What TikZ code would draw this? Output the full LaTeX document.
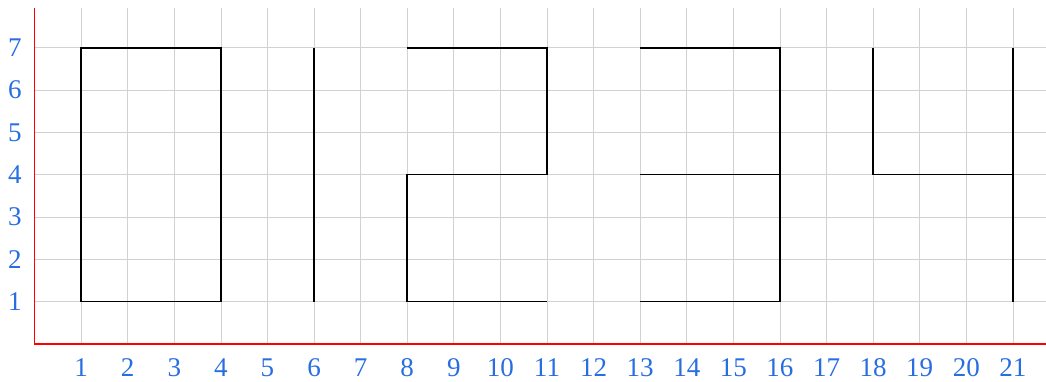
\documentclass[tikz,border=0pt]{standalone}
\usepackage{xcolor}
\usepackage{fontspec}
\setmainfont{Liberation Serif}
\usepackage{tikz}
\definecolor{labelblue}{RGB}{40,110,225}

\begin{document}
\begin{tikzpicture}[
				x=1cm, y=0.908cm,
				gridline/.style={gray!35, thin},
				axis/.style={red, thick},
				digit/.style={black, line width=0.9pt},
				tick/.style={text=labelblue, font=\fontsize{16.5}{20}\selectfont}
				]
				\useasboundingbox (-0.74,-0.89) rectangle (21.71,8.13);
				% Grid
				\foreach \i in {1,...,21}
					\draw [gridline] (\i,0) -- (\i,7.94);
				\foreach \j in {1,...,7}
					\draw [gridline] (0,\j) -- (21.71,\j);
				% Axes
				\draw [axis] (0,7.94) -- (0,0) -- (21.71,0);
				% Labels
				\foreach \i in {1,...,21}
					\node (xl\i) [tick] at (\i,-0.56) {\i};
				\foreach \j in {1,...,7}
					\node (yl\j) [tick] at (-0.42,\j) {\j};
				
				% Digits
				\draw [digit] (1,1) rectangle (4,7);
				\draw [digit] (6,1) -- (6,7);
				\draw [digit] (8,7) -- (11,7) -- (11,4) -- (8,4) -- (8,1) -- (11,1);
				\draw [digit] (13,7) -- (16,7) -- (16,1) -- (13,1);
				\draw [digit] (13,4) -- (16,4);
				\draw [digit] (18,7) -- (18,4) -- (21,4);
				\draw [digit] (21,7) -- (21,1);
			\end{tikzpicture}
\end{document}
